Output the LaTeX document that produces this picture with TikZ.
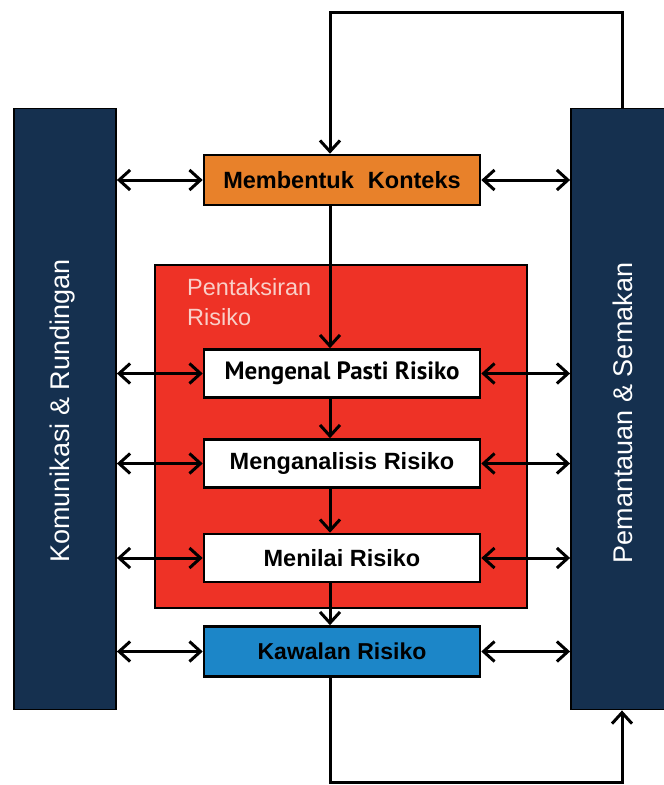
\documentclass[tikz,border=0pt]{standalone}
\usepackage{fontspec}
\setmainfont{Liberation Sans}
\newfontfamily\ptsans{PT Sans}
\usetikzlibrary{arrows.meta,calc}
\definecolor{navybar}{HTML}{15304F}
\definecolor{orangebox}{HTML}{E8812A}
\definecolor{redbox}{HTML}{EE3226}
\definecolor{bluebox}{HTML}{1C86C8}
\definecolor{pinktext}{HTML}{F9CFC8}
\tikzset{
  bar/.style={draw=black, line width=1.8pt, fill=navybar, minimum width=102pt, minimum height=601pt, inner sep=0pt},
  bartext/.style={text=white, font=\fontsize{27}{30}\selectfont, rotate=90},
  procbox/.style={draw=black, line width=2.6pt, minimum width=276pt, minimum height=48pt, inner sep=0pt, font=\bfseries\fontsize{23.5}{26}\selectfont},
  conn/.style={draw=black, line width=3pt},
  tip/.style={-{Straight Barb[length=11pt,width=20pt,line width=3pt]}},
  dtip/.style={{Straight Barb[length=11pt,width=20pt,line width=3pt]}-{Straight Barb[length=11pt,width=20pt,line width=3pt]}},
}
\begin{document}
\begin{tikzpicture}[x=1pt,y=-1pt]
\useasboundingbox (0,0) rectangle (664,785);
\coordinate (sp) at (330,0);
\coordinate (top) at (0,12);
\coordinate (bot) at (0,782);
% side bars
\node[bar] (kr) at (65,409) {};
\node[bar] (pm) at (622,409) {};
\node[bartext] (krt) at (63,411) {Komunikasi \& Rundingan};
\node[bartext] (pmt) at (623,413) {Pemantauan \& Semakan};
% red assessment box
\node[draw=black, line width=2.6pt, fill=redbox, minimum width=372pt, minimum height=343pt, inner sep=0pt] (pr) at (341,436.5) {};
\node[anchor=north west, align=left, text=pinktext, font=\fontsize{23.5}{30}\selectfont, inner sep=0pt] (prt) at (187,278) {Pentaksiran\\Risiko};
% process boxes
\node[procbox, fill=orangebox, minimum height=50pt] (mk) at (342,180) {Membentuk\hspace{0.6em}Konteks};
\node[procbox, fill=white, font=\ptsans\bfseries\fontsize{25}{28}\selectfont] (mp) at (342,373.5) {Mengenal Pasti Risiko\hspace{0.4em}};
\node[procbox, fill=white] (ma) at (342,463.5) {Menganalisis Risiko};
\node[procbox, fill=white] (mn) at (342,558) {Menilai Risiko};
\node[procbox, fill=bluebox, minimum height=50pt, font=\bfseries\fontsize{23}{26}\selectfont] (kw) at (342,651.5) {Kawalan Risiko};
% feedback loops
\draw[conn, tip] (pm.north) -- (pm.north |- top) -| (sp |- mk.north);
\draw[conn, tip] (sp |- kw.south) -- (sp |- bot) -| (pm.south);
% vertical flow
\draw[conn, tip] (sp |- mk.south) -- (sp |- mp.north);
\draw[conn, tip] (sp |- mp.south) -- (sp |- ma.north);
\draw[conn, tip] (sp |- ma.south) -- (sp |- mn.north);
\draw[conn, tip] (sp |- mn.south) -- (sp |- kw.north);
% side double arrows
\foreach \b in {mk,mp,ma,mn,kw}{
  \draw[conn, dtip] (kr.east |- \b.west) -- (\b.west);
  \draw[conn, dtip] (\b.east) -- (pm.west |- \b.east);
}
\end{tikzpicture}
\end{document}
